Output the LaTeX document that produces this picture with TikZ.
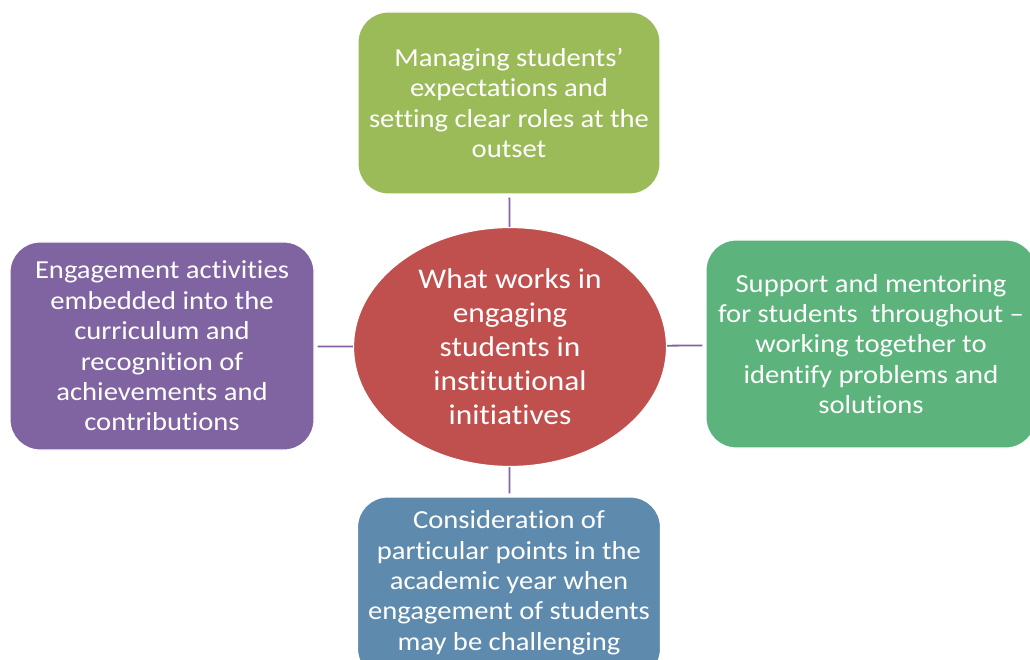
\documentclass[tikz,border=0pt]{standalone}
\usepackage{fontspec}
\setmainfont{Carlito}[FakeStretch=1.1, Ligatures={NoCommon}]
\usepackage{xcolor}
\usetikzlibrary{shapes,positioning,calc}

\definecolor{hubred}{HTML}{C0504D}
\definecolor{leafgreen}{HTML}{9BBB59}
\definecolor{leafpurple}{HTML}{8064A2}
\definecolor{leafteal}{HTML}{5CB47C}
\definecolor{leafblue}{HTML}{5E8BAD}

\tikzset{
    leaf/.style={rounded corners=30pt, draw=white, line width=1.2pt, text=white,
        align=center, inner sep=0pt, font=\fontsize{26}{30.4}\selectfont},
    hub/.style={ellipse, fill=hubred, draw=white, line width=1.2pt, text=white,
        align=center, minimum width=313pt, minimum height=239pt, inner sep=0pt,
        font=\fontsize{28.5}{34}\selectfont},
    link/.style={leafpurple, line width=1.8pt, shorten >=3pt}
}

\begin{document}
\begin{tikzpicture}[x=1pt,y=-1pt]
    \clip (0,0) rectangle (1030,660);

    \node[hub] (hub) at (510,347) {What works in\\engaging\\students in\\institutional\\initiatives};

    \node[leaf, fill=leafgreen, minimum width=302pt, minimum height=182pt] (expect) at (509,103)
        {Managing students’\\expectations and\\setting clear roles at the\\outset};
    \node[leaf, fill=leafpurple, minimum width=304pt, minimum height=208pt] (curric) at (162,346)
        {Engagement activities\\embedded into the\\curriculum and\\recognition of\\achievements and\\contributions};
    \node[leaf, fill=leafteal, minimum width=330pt, minimum height=208pt] (support) at (871,344)
        {Support and mentoring\\for students\ \ throughout –\\working together to\\identify problems and\\solutions};
    % text sits a little high in this one
    \node[leaf, fill=leafblue, minimum width=303pt, minimum height=182pt] (timing) at (509,588)
        {\raisebox{-1pt}[0pt][0pt]{\parbox{300pt}{\centering\fontsize{26}{30.4}\selectfont Consideration of\\particular points in the\\academic year when\\engagement of students\\may be challenging}}};

    % spokes
    \draw[link] (hub) -- (expect);
    \draw[link] (hub) -- (curric);
    \draw[link] (hub) -- (support);
    \draw[link] (hub) -- (timing);
\end{tikzpicture}
\end{document}
